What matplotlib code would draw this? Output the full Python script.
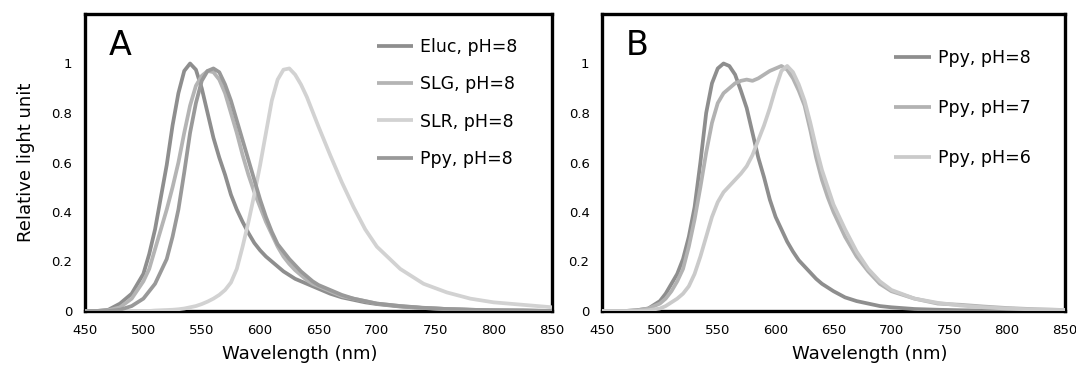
import matplotlib
matplotlib.use('Agg')
import matplotlib.pyplot as plt

plt.rcParams['font.family'] = ['DejaVu Sans']

# wavelength grid shared by all spectra (nm)
wl = [450, 460, 470, 480, 490, 500, 505, 510, 515, 520, 525, 530, 535, 540, 545,
      550, 555, 560, 565, 570, 575, 580, 585, 590, 595, 600, 605, 610, 615, 620,
      625, 630, 635, 640, 645, 650, 660, 670, 680, 690, 700, 720, 740, 760, 780,
      800, 825, 850]

# panel A
eluc = [0, 0, 0.005, 0.03, 0.07, 0.15, 0.23, 0.33, 0.46, 0.59, 0.75, 0.88, 0.97, 1.0, 0.975,
        0.9, 0.8, 0.7, 0.62, 0.55, 0.47, 0.41, 0.36, 0.315, 0.275, 0.245, 0.22, 0.20, 0.18, 0.16,
        0.145, 0.13, 0.12, 0.11, 0.10, 0.09, 0.07, 0.055, 0.045, 0.035, 0.028, 0.018, 0.012, 0.008, 0.005,
        0.003, 0.002, 0]
slg = [0, 0, 0.003, 0.015, 0.05, 0.12, 0.17, 0.25, 0.33, 0.41, 0.50, 0.60, 0.72, 0.83, 0.91,
       0.95, 0.97, 0.965, 0.935, 0.88, 0.80, 0.72, 0.63, 0.55, 0.48, 0.42, 0.36, 0.31, 0.26, 0.22,
       0.19, 0.165, 0.145, 0.125, 0.11, 0.10, 0.08, 0.06, 0.05, 0.04, 0.03, 0.02, 0.012, 0.008, 0.005,
       0.003, 0.002, 0]
slr = [0, 0, 0, 0, 0, 0, 0, 0.002, 0.003, 0.004, 0.005, 0.007, 0.01, 0.015, 0.02,
       0.028, 0.038, 0.05, 0.065, 0.085, 0.115, 0.17, 0.26, 0.36, 0.47, 0.59, 0.72, 0.85, 0.935, 0.975,
       0.98, 0.955, 0.915, 0.865, 0.805, 0.745, 0.63, 0.52, 0.42, 0.33, 0.26, 0.17, 0.11, 0.075, 0.05,
       0.035, 0.025, 0.015]
ppy_a = [0, 0, 0, 0.005, 0.02, 0.05, 0.08, 0.11, 0.16, 0.21, 0.30, 0.41, 0.56, 0.72, 0.84,
         0.93, 0.97, 0.98, 0.965, 0.915, 0.85, 0.77, 0.69, 0.61, 0.53, 0.45, 0.38, 0.32, 0.27, 0.24,
         0.21, 0.185, 0.16, 0.14, 0.12, 0.105, 0.085, 0.065, 0.05, 0.04, 0.03, 0.02, 0.013, 0.008, 0.005,
         0.003, 0.002, 0]

# panel B
ph8 = [0, 0, 0, 0.003, 0.01, 0.04, 0.07, 0.11, 0.15, 0.21, 0.30, 0.42, 0.60, 0.80, 0.92,
       0.98, 1.0, 0.99, 0.955, 0.89, 0.82, 0.72, 0.62, 0.54, 0.45, 0.38, 0.33, 0.28, 0.24, 0.205,
       0.18, 0.155, 0.13, 0.11, 0.095, 0.08, 0.055, 0.04, 0.03, 0.02, 0.015, 0.008, 0.005, 0.003, 0.002,
       0.001, 0, 0]
ph7 = [0, 0, 0, 0.003, 0.01, 0.03, 0.05, 0.08, 0.12, 0.17, 0.26, 0.37, 0.50, 0.64, 0.76,
       0.84, 0.88, 0.90, 0.92, 0.93, 0.935, 0.93, 0.94, 0.955, 0.97, 0.98, 0.99, 0.975, 0.94, 0.89,
       0.83, 0.73, 0.62, 0.53, 0.46, 0.40, 0.30, 0.22, 0.16, 0.11, 0.08, 0.05, 0.03, 0.025, 0.018,
       0.012, 0.007, 0.004]
ph6 = [0, 0, 0, 0, 0.003, 0.01, 0.02, 0.035, 0.05, 0.07, 0.10, 0.15, 0.22, 0.30, 0.38,
       0.44, 0.48, 0.505, 0.53, 0.555, 0.585, 0.63, 0.69, 0.75, 0.82, 0.90, 0.97, 0.99, 0.965, 0.915,
       0.85, 0.76, 0.66, 0.57, 0.50, 0.43, 0.33, 0.24, 0.17, 0.12, 0.085, 0.05, 0.033, 0.022, 0.015,
       0.01, 0.006, 0.004]

series_a = [("Eluc, pH=8", eluc, "#8e8e8e"),
            ("SLG, pH=8", slg, "#b4b4b4"),
            ("SLR, pH=8", slr, "#d2d2d2"),
            ("Ppy, pH=8", ppy_a, "#999999")]
series_b = [("Ppy, pH=8", ph8, "#8e8e8e"),
            ("Ppy, pH=7", ph7, "#b2b2b2"),
            ("Ppy, pH=6", ph6, "#cacaca")]

xticks = [450, 500, 550, 600, 650, 700, 750, 800, 850]
yticks = [0, 0.2, 0.4, 0.6, 0.8, 1]
yticklabels = ["0", "0.2", "0.4", "0.6", "0.8", "1"]

fig = plt.figure(figsize=(10.76, 3.68), dpi=100)
ax_a = fig.add_axes([85 / 1076, 57 / 368, 467 / 1076, 297 / 368])
ax_b = fig.add_axes([602 / 1076, 57 / 368, 463 / 1076, 297 / 368])


def style_axis(ax):
    ax.set_xlim(450, 850)
    ax.set_ylim(0, 1.2)
    ax.set_xticks(xticks)
    ax.set_yticks(yticks)
    ax.set_yticklabels(yticklabels)
    ax.tick_params(length=0, labelsize=9.5, pad=9)
    for sp in ax.spines.values():
        sp.set_linewidth(2.4)
        sp.set_color('black')
        sp.set_zorder(1)


for ax, series, letter, leg_xy, spacing in [(ax_a, series_a, "A", (0.625, 0.918), 1.1),
                                             (ax_b, series_b, "B", (0.631, 0.882), 1.85)]:
    for label, vals, col in series:
        ax.plot(wl, vals, color=col, lw=2.7, label=label, zorder=3,
                solid_joinstyle='round', solid_capstyle='butt')
    style_axis(ax)
    ax.text(0.075, 0.895, letter, transform=ax.transAxes, fontsize=24,
            ha='center', va='center')
    ax.legend(loc='upper left', bbox_to_anchor=leg_xy, frameon=False,
              prop={'size': 12.5},
              handlelength=2.1, handletextpad=0.4, labelspacing=spacing,
              borderpad=0, borderaxespad=0)

ax_a.set_ylabel("Relative light unit", fontsize=13, labelpad=12)
ax_a.set_xlabel("Wavelength (nm)", fontsize=13)
ax_b.set_xlabel("Wavelength (nm)", fontsize=13)
ax_a.xaxis.set_label_coords((300 - 85) / 467, -0.115)
ax_b.xaxis.set_label_coords((870 - 602) / 463, -0.115)

fig.savefig("out.png", dpi=100)
